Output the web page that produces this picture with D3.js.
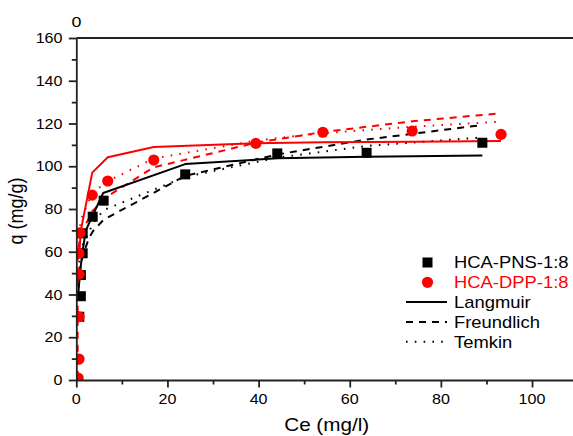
<!DOCTYPE html>
<html>
<head>
<meta charset="utf-8">
<script src="https://cdn.jsdelivr.net/npm/d3@7"></script>
<style>
  html, body { margin: 0; padding: 0; background: #fff; }
  svg { display: block; }
  text { font-family: "Liberation Sans", Arial, sans-serif; }
</style>
</head>
<body>
<svg id="chart" width="573" height="436"></svg>
<script>
// Measured adsorption data
const pnsCe = [0.66, 1.0, 1.0, 1.4, 1.4, 3.6, 6.0, 23.9, 44.1, 63.7, 89.1];
const pnsQ  = [29.6, 39.2, 49.1, 59.3, 68.6, 76.4, 83.9, 96.2, 106.0, 106.3, 111.0];
const dppCe = [0.4, 0.6, 0.6, 0.6, 0.6, 0.8, 3.5, 6.9, 17.0, 39.4, 54.1, 73.7, 93.2];
const dppQ  = [0.9, 9.8, 29.6, 49.5, 59.3, 68.8, 86.5, 93.1, 102.9, 110.7, 115.9, 116.5, 114.9];

// Fitted isotherms (HCA-PNS-1:8, black)
const pnsLangCe = [0.3, 0.9, 1.5, 2.1, 3.6, 5.9, 23.9, 44.1, 63.7, 89.1];
const pnsLangQ  = [37, 52, 62, 70, 77, 87.5, 101, 103.7, 104.5, 105];
const pnsFreuCe = [0.66, 1.0, 1.4, 2.7, 3.6, 6.0, 23.9, 44.1, 63.7, 89.1];
const pnsFreuQ  = [50, 54, 58, 66, 69.5, 75, 95.5, 105.5, 112.5, 119.3];
const pnsTemCe  = [0.66, 1.0, 1.4, 3.6, 6.0, 23.9, 44.1, 63.7, 89.1];
const pnsTemQ   = [55, 60, 63, 73, 79.5, 95, 104, 109.5, 113.5];

// Fitted isotherms (HCA-DPP-1:8, red)
const dppLangCe = [0.6, 1.0, 3.5, 6.9, 17.0, 39.4, 54.1, 73.7, 93.2];
const dppLangQ  = [57, 70, 97, 104.2, 109, 110.8, 111.2, 111.5, 111.8];
const dppFreuCe = [0.3, 0.3, 1.0, 3.5, 6.9, 17.0, 39.4, 54.1, 73.7, 93.2];
const dppFreuQ  = [1, 60, 68, 79, 86, 99.5, 111, 116, 121, 124.8];
const dppTemCe  = [0.6, 1.0, 3.5, 6.9, 17.0, 39.4, 54.1, 73.7, 93.2];
const dppTemQ   = [68, 75, 87.5, 93, 103.6, 112, 115.5, 118.5, 120.9];

// Axis ticks
const xMajorTicks = [0, 20, 40, 60, 80, 100];
const xMinorTicks = [10, 30, 50, 70, 90, 110];
const yMajorTicks = [0, 20, 40, 60, 80, 100, 120, 140, 160];
const yMinorTicks = [10, 30, 50, 70, 90, 110, 130, 150];

const legendItems = [
  { label: "HCA-PNS-1:8", kind: "square", color: "#000" },
  { label: "HCA-DPP-1:8", kind: "circle", color: "#ff0000" },
  { label: "Langmuir", kind: "line", dash: null, color: "#000" },
  { label: "Freundlich", kind: "line", dash: "7,6", color: "#000" },
  { label: "Temkin", kind: "line", dash: "1.6,7.2", color: "#000" }
];

const svg = d3.select("#chart");
const plotLeft = 76.3, plotRight = 577.6, plotTop = 38, plotBottom = 380;
const STRETCH = 1.15;

const x = d3.scaleLinear().domain([0, 110]).range([plotLeft, plotRight]);
const y = d3.scaleLinear().domain([0, 160]).range([plotBottom, plotTop]);

// horizontally widened text helper
function label(parent, px, py, str, size, anchor, color) {
  return parent.append("text")
    .attr("transform", `translate(${px},${py}) scale(${STRETCH},1)`)
    .attr("text-anchor", anchor)
    .attr("font-size", size)
    .attr("fill", color || "#000")
    .text(str);
}

svg.append("defs").append("clipPath").attr("id", "plotClip")
  .append("rect").attr("x", plotLeft).attr("y", plotTop)
  .attr("width", plotRight - plotLeft).attr("height", plotBottom - plotTop);

const plot = svg.append("g").attr("clip-path", "url(#plotClip)");

function series(ce, q) { return ce.map((c, i) => [c, q[i]]); }
const line = d3.line().x(d => x(d[0])).y(d => y(d[1]));

const fits = [
  { d: series(pnsFreuCe, pnsFreuQ), color: "#000", dash: "7,6" },
  { d: series(pnsTemCe, pnsTemQ), color: "#000", dash: "1.6,7.2" },
  { d: series(dppFreuCe, dppFreuQ), color: "#ff0000", dash: "7,6" },
  { d: series(dppTemCe, dppTemQ), color: "#ff0000", dash: "1.6,7.2" },
  { d: series(pnsLangCe, pnsLangQ), color: "#000", dash: null },
  { d: series(dppLangCe, dppLangQ), color: "#ff0000", dash: null }
];
fits.forEach(f => {
  plot.append("path")
    .attr("d", line(f.d))
    .attr("fill", "none")
    .attr("stroke", f.color)
    .attr("stroke-width", 2)
    .attr("stroke-dasharray", f.dash)
    .attr("stroke-linejoin", "round");
});

// data markers
const sq = 10;
plot.selectAll("rect.pns").data(series(pnsCe, pnsQ)).join("rect")
  .attr("class", "pns")
  .attr("x", d => x(d[0]) - sq / 2).attr("y", d => y(d[1]) - sq / 2)
  .attr("width", sq).attr("height", sq).attr("fill", "#000");

plot.selectAll("circle.dpp").data(series(dppCe, dppQ)).join("circle")
  .attr("class", "dpp")
  .attr("cx", d => x(d[0])).attr("cy", d => y(d[1]))
  .attr("r", 5.6).attr("fill", "#ff0000");

// axes
const axisColor = "#222";
svg.append("g").attr("transform", `translate(0,${plotBottom})`)
  .call(d3.axisBottom(x).tickValues(xMajorTicks).tickSize(7.5).tickSizeOuter(0).tickFormat(d3.format("d")));
svg.append("g").attr("transform", `translate(0,${plotBottom})`)
  .call(d3.axisBottom(x).tickValues(xMinorTicks).tickSize(4.5).tickSizeOuter(0).tickFormat(""))
  .call(g => g.select(".domain").remove());
svg.append("g").attr("transform", `translate(${plotLeft},0)`)
  .call(d3.axisLeft(y).tickValues(yMajorTicks).tickSize(7.5).tickSizeOuter(0).tickFormat(d3.format("d")));
svg.append("g").attr("transform", `translate(${plotLeft},0)`)
  .call(d3.axisLeft(y).tickValues(yMinorTicks).tickSize(4.5).tickSizeOuter(0).tickFormat(""))
  .call(g => g.select(".domain").remove());

svg.selectAll(".domain, .tick line").attr("stroke", axisColor).attr("stroke-width", 1.8);
svg.selectAll(".tick text").remove();

xMajorTicks.forEach(v => label(svg, x(v), 404, String(v), 14, "middle"));
yMajorTicks.forEach(v => label(svg, 62.5, y(v) + 5, String(v), 14, "end"));

// top frame line
svg.append("line")
  .attr("x1", plotLeft).attr("x2", 573).attr("y1", plotTop).attr("y2", plotTop)
  .attr("stroke", axisColor).attr("stroke-width", 1.8);

// stray label above the y axis
label(svg, 76.5, 27, "0", 15.5, "middle");

// axis titles
label(svg, 326.7, 431, "Ce (mg/l)", 18, "middle");
svg.append("text")
  .attr("transform", `translate(23,211) rotate(-90) scale(1,${STRETCH})`)
  .attr("text-anchor", "middle")
  .attr("font-size", 18)
  .text("q (mg/g)");

// legend
const lg = svg.append("g");
legendItems.forEach((it, i) => {
  const cy = 262.5 + i * 19.8;
  if (it.kind === "square") {
    lg.append("rect").attr("x", 427.5 - 5).attr("y", cy - 5).attr("width", 10).attr("height", 10).attr("fill", it.color);
  } else if (it.kind === "circle") {
    lg.append("circle").attr("cx", 427.5).attr("cy", cy).attr("r", 5.6).attr("fill", it.color);
  } else {
    lg.append("line").attr("x1", 406).attr("x2", 447).attr("y1", cy).attr("y2", cy)
      .attr("stroke", it.color).attr("stroke-width", 2).attr("stroke-dasharray", it.dash);
  }
  label(lg, 454, cy + 5.8, it.label, 16, "start", it.kind === "circle" ? "#ff0000" : "#000");
});
</script>
</body>
</html>
